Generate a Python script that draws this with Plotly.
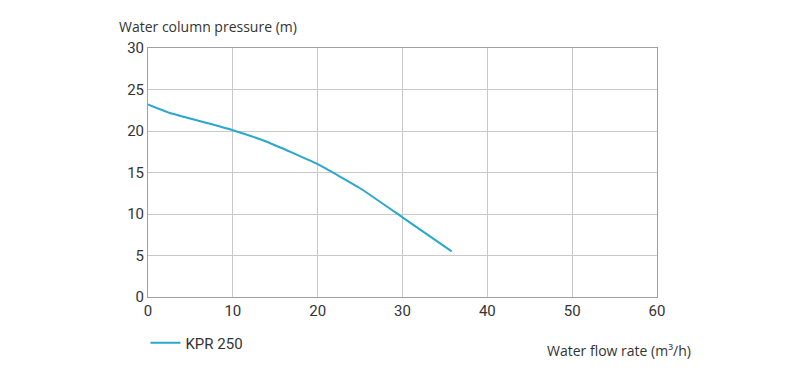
import plotly.graph_objects as go

flow = [0, 2.5, 10, 14, 20, 25, 30, 35.8]
pressure = [23.2, 22.2, 20.1, 18.7, 16.0, 13.1, 9.6, 5.5]
series_name = "KPR 250"
x_ticks = [0, 10, 20, 30, 40, 50, 60]
y_ticks = [0, 5, 10, 15, 20, 25, 30]

fig = go.Figure()
fig.add_trace(go.Scatter(
    x=flow, y=pressure, mode="lines", name=series_name,
    line=dict(color="#2aa7cf", width=2, shape="spline", smoothing=0.4),
))

axis_common = dict(
    showgrid=True, gridcolor="#c9c9c9", gridwidth=1,
    showline=True, linecolor="#a0a0a0", linewidth=1, mirror=True,
    zeroline=False, ticks="",
    tickfont=dict(family="Roboto", size=15, color="#333333"),
)
fig.update_xaxes(range=[0, 60], tickvals=x_ticks, **axis_common)
fig.update_yaxes(range=[0, 30], tickvals=y_ticks, **axis_common)

fig.update_layout(
    width=800, height=377,
    margin=dict(l=140, r=151, t=40, b=88),
    plot_bgcolor="white", paper_bgcolor="white",
    showlegend=True,
    legend=dict(x=-0.005, y=-0.185, xanchor="left", yanchor="middle",
                font=dict(family="Roboto", size=15, color="#333333"),
                bgcolor="rgba(0,0,0,0)"),
    annotations=[
        dict(text="Water column pressure (m)", xref="paper", yref="paper",
             x=-0.06, y=1.085, xanchor="left", yanchor="middle", showarrow=False,
             font=dict(family="Open Sans", size=14, color="#333333")),
        dict(text="Water flow rate (m³/h)", xref="paper", yref="paper",
             x=1.07, y=-0.215, xanchor="right", yanchor="middle", showarrow=False,
             font=dict(family="Open Sans", size=14, color="#333333")),
    ],
)

fig.write_html("out.html")
